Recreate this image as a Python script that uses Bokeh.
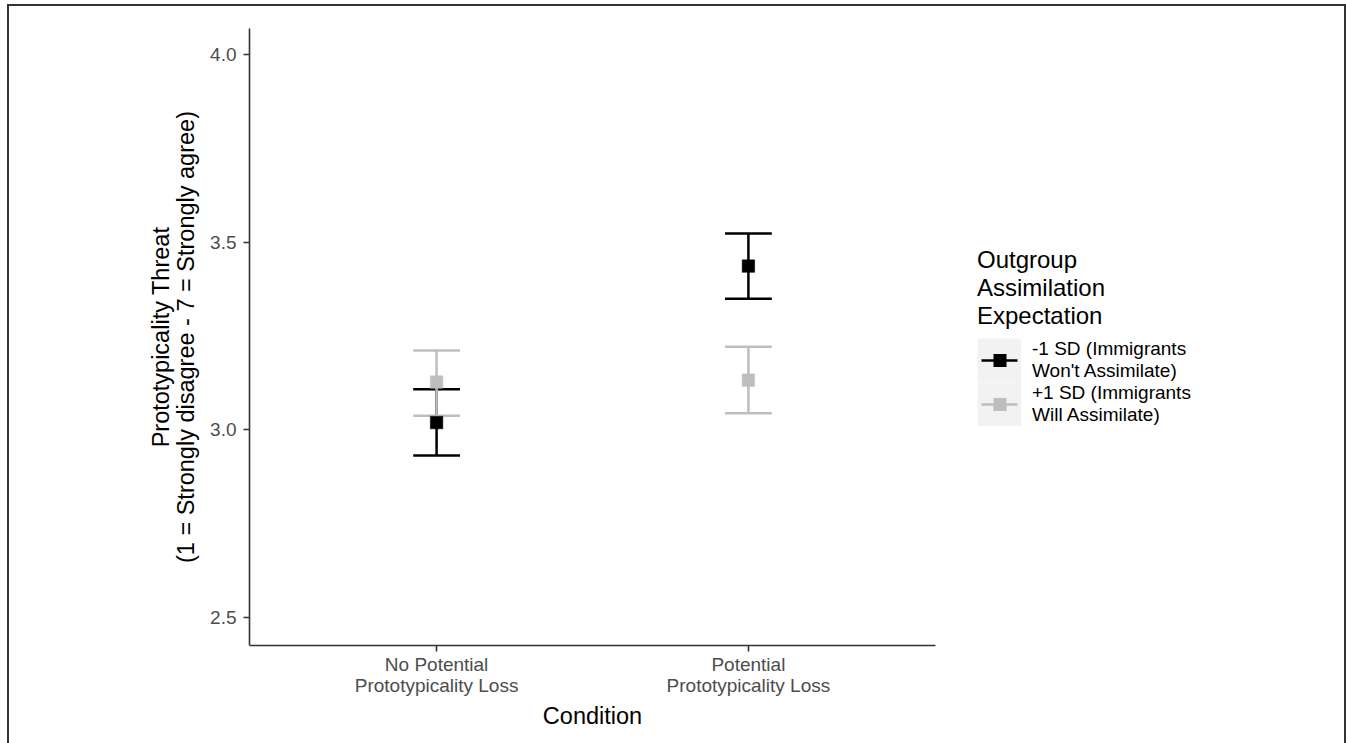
from bokeh.plotting import figure
from bokeh.layouts import row
from bokeh.models import (ColumnDataSource, FactorRange, Range1d, FixedTicker,
                          PrintfTickFormatter, Legend, LegendItem)
from bokeh.transform import dodge
from bokeh.embed import file_html
from bokeh.resources import INLINE

# ---- data ----
conditions = ["No Potential\nPrototypicality Loss", "Potential\nPrototypicality Loss"]
groups = ["-1 SD (Immigrants\nWon't Assimilate)", "+1 SD (Immigrants\nWill Assimilate)"]
group_colors = ["#000000", "#bebebe"]

mean_low = [3.019, 3.436]     # -1 SD (Immigrants Won't Assimilate)
lower_low = [2.931, 3.349]
upper_low = [3.108, 3.523]

mean_high = [3.127, 3.132]    # +1 SD (Immigrants Will Assimilate)
lower_high = [3.037, 3.044]
upper_high = [3.211, 3.221]

y_ticks = [2.5, 3.0, 3.5, 4.0]
y_label = "Prototypicality Threat\n(1 = Strongly disagree - 7 = Strongly agree)"
x_label = "Condition"
legend_title = "Outgroup\nAssimilation\nExpectation"

FONT = "Liberation Sans"
OX, OY = 9, 6          # where the plots start inside the outer frame line
H = 737
W1 = 935 + 15 - OX     # plot part (frame ends at x = 935)
W2 = 1346 - 2 - OX - W1  # legend part
TOP = 28 - OY
BOTTOM = OY + H - 645

p1 = figure(width=W1, height=H, output_backend="svg", toolbar_location=None,
            x_range=FactorRange(factors=conditions, range_padding=0.1,
                                range_padding_units="absolute"),
            y_range=Range1d(2.425, 4.069),
            min_border_left=249 - OX, min_border_right=15,
            min_border_top=TOP, min_border_bottom=BOTTOM)
p1.outline_line_color = None
p1.xgrid.visible = False
p1.ygrid.visible = False
p1.background_fill_color = "white"
p1.border_fill_color = "white"

p1.yaxis.ticker = FixedTicker(ticks=y_ticks)
p1.yaxis.formatter = PrintfTickFormatter(format="%.1f")

for ax in (p1.xaxis[0], p1.yaxis[0]):
    ax.axis_line_color = "#333333"
    ax.axis_line_width = 1.6
    ax.major_tick_line_color = "#333333"
    ax.major_tick_line_width = 1.6
    ax.major_tick_out = 6
    ax.major_tick_in = 0
    ax.minor_tick_line_color = None
    ax.major_label_text_font = FONT
    ax.major_label_text_font_size = "19px"
    ax.major_label_text_color = "#4d4d4d"
    ax.axis_label_text_font = FONT
    ax.axis_label_text_font_size = "23.5px"
    ax.axis_label_text_font_style = "normal"
    ax.axis_label_text_color = "black"
    ax.axis_label_text_line_height = 0.95

p1.yaxis.axis_label = y_label
p1.yaxis.major_label_standoff = 7
p1.yaxis.axis_label_standoff = 8
p1.xaxis.axis_label = x_label
p1.xaxis.major_label_standoff = 2
p1.xaxis.major_label_text_line_height = 1.0
p1.xaxis.axis_label_standoff = 4

src_low = ColumnDataSource(dict(cond=conditions, mean=mean_low, lower=lower_low, upper=upper_low))
src_high = ColumnDataSource(dict(cond=conditions, mean=mean_high, lower=lower_high, upper=upper_high))

CAP = 0.075
for src, col in ((src_low, group_colors[0]), (src_high, group_colors[1])):
    p1.segment(x0="cond", x1="cond", y0="lower", y1="upper", source=src,
               line_color=col, line_width=2.5)
    for yk in ("lower", "upper"):
        p1.segment(x0=dodge("cond", -CAP, range=p1.x_range),
                   x1=dodge("cond", CAP, range=p1.x_range),
                   y0=yk, y1=yk, source=src, line_color=col, line_width=2.5)

for src, col in ((src_low, group_colors[0]), (src_high, group_colors[1])):
    p1.scatter(x="cond", y="mean", source=src, marker="square", size=12.5,
               fill_color=col, line_color=col, line_width=0.5)

# ---- legend panel (right of the plot) ----
p2 = figure(width=W2, height=H, output_backend="svg", toolbar_location=None,
            x_range=Range1d(0, 1), y_range=Range1d(0, 1),
            x_axis_location=None, y_axis_location=None,
            min_border_left=0, min_border_top=TOP,
            min_border_right=0, min_border_bottom=BOTTOM)
p2.outline_line_color = None
p2.grid.visible = False
p2.background_fill_color = "white"
p2.border_fill_color = "white"

# legend-key helpers: one row with a missing (NaN) value, so nothing shows in the panel
blank = ColumnDataSource(dict(x=[0.0], y=[float("nan")]))
key_bg = p2.line(x="x", y="y", source=blank, line_color="#f2f2f2", line_width=44)
items = []
for i, col in enumerate(group_colors):
    k_line = p2.line(x="x", y="y", source=blank, line_color=col, line_width=2.5,
                     line_dash="0 4 36 100")
    k_sq = p2.line(x="x", y="y", source=blank, line_color=col, line_width=13,
                   line_dash="0 16 13 100")
    items.append(LegendItem(label=groups[i], renderers=[key_bg, k_line, k_sq]))

# location = (left, bottom) of the legend box, in pixels from the panel frame's bottom-left
legend = Legend(items=items, title=legend_title, location=(977 - OX - W1, 645 - 426),
                orientation="vertical", glyph_width=44, glyph_height=44,
                label_height=44, spacing=0, label_standoff=11, padding=0, margin=0,
                border_line_color=None, background_fill_alpha=0,
                title_text_font=FONT, title_text_font_size="24px",
                title_text_font_style="normal", title_text_color="black",
                title_text_line_height=0.95, title_standoff=8,
                label_text_font=FONT, label_text_font_size="19px",
                label_text_color="black", label_text_line_height=1.15)
p2.add_layout(legend, "center")

p = row(p1, p2, styles={"margin-left": "%dpx" % (OX - 2), "margin-top": "%dpx" % (OY - 2),
                        "border-top": "2px solid #333", "border-left": "2px solid #333",
                        "border-right": "2px solid #333"})
open("out.html", "w").write(file_html(p, INLINE))
